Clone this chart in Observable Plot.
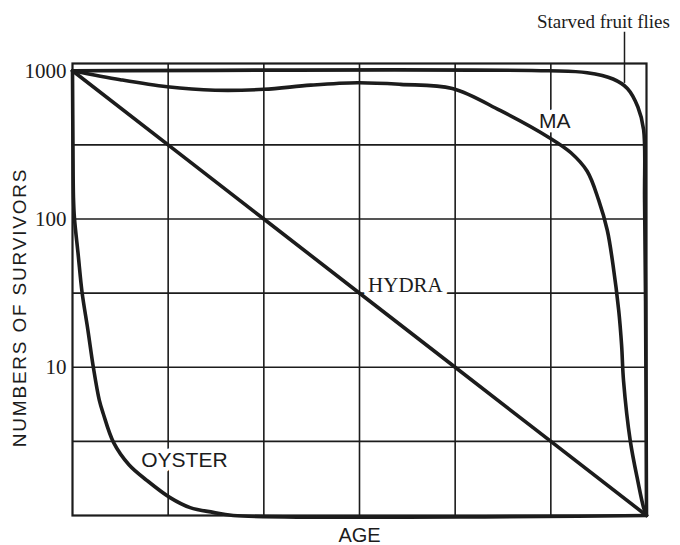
<!DOCTYPE html>
<html><head><meta charset="utf-8">
<script src="https://cdn.jsdelivr.net/npm/d3@7"></script>
<script src="https://cdn.jsdelivr.net/npm/@observablehq/plot@0.6"></script>
<style>body{margin:0;background:#fff}</style>
</head><body><div id="chart"></div>
<script>
// Survivorship curves (age in grid units 0-6, survivors on log scale)
const fliesAge = [0, 4.98, 5.38, 5.65, 5.80, 5.91, 5.97, 5.98, 5.99, 6.0];
const fliesSurvivors = [1000, 1000, 970, 880, 760, 570, 400, 134, 28, 1];

const maAge = [0, 0.5, 0.99, 1.49, 2.0, 2.49, 2.98, 3.43, 3.97, 4.47, 4.98, 5.21, 5.38, 5.50, 5.59, 5.65, 5.71, 5.74, 5.76, 5.83, 5.91, 5.97, 6.0];
const maSurvivors = [1000, 870, 780, 740, 750, 800, 830, 810, 760, 540, 355, 280, 210, 134, 84, 49, 24, 14, 8.1, 3.2, 1.7, 1.13, 1];

const hydraAge = [0, 2, 4, 6];
const hydraSurvivors = [1000, 100, 10, 1];

const oysterAge = [0, 0.005, 0.01, 0.02, 0.06, 0.10, 0.16, 0.22, 0.28, 0.32, 0.43, 0.59, 0.78, 1.02, 1.23, 1.47, 1.68, 6.0];
const oysterSurvivors = [1000, 300, 140, 102, 57, 32, 18, 9.8, 6.0, 4.9, 3.1, 2.2, 1.72, 1.32, 1.13, 1.05, 1, 1];

const yTicks = [10, 100, 1000];
const ageGrid = [1, 2, 3, 4, 5];
const survivorGrid = [Math.sqrt(10), 10, Math.sqrt(1000), 100, Math.sqrt(100000)];

const labelText = ["Starved fruit flies", "MA", "HYDRA", "OYSTER"];
const labelAge = [5.55, 5.04, 3.48, 1.17];
const labelValue = [2122, 455, 35.6, 2.35];

const leaderAge = 5.77;
const leaderTop = 1820;
const leaderBottom = 822;

const rows = [];
[["flies", fliesAge, fliesSurvivors], ["ma", maAge, maSurvivors], ["hydra", hydraAge, hydraSurvivors], ["oyster", oysterAge, oysterSurvivors]]
  .forEach(([s, a, v]) => a.forEach((age, i) => rows.push({series: s, age, survivors: v[i]})));

const labels = labelText.map((t, i) => ({text: t, age: labelAge[i], value: labelValue[i]}));

const ink = "#1c1c1c";
const serif = "Liberation Serif, serif";
const sans = "Liberation Sans, Arial, sans-serif";

const chart = Plot.plot({
  width: 680,
  height: 545,
  marginLeft: 72,
  marginRight: 34,
  marginTop: 63,
  marginBottom: 30,
  x: {domain: [0, 6], axis: null},
  y: {type: "log", domain: [1, 1120]},
  marks: [
    Plot.gridX(ageGrid, {stroke: ink, strokeOpacity: 1, strokeWidth: 1.6}),
    Plot.gridY(survivorGrid, {stroke: ink, strokeOpacity: 1, strokeWidth: 1.6}),
    Plot.frame({stroke: ink, strokeWidth: 2.2}),
    Plot.axisY(yTicks, {tickSize: 0, tickPadding: 6, tickFormat: d => String(d), fontSize: 21, fontFamily: serif, fill: ink, label: null}),
    Plot.text(labels.filter(d => d.text === "MA" || d.text === "OYSTER"), {x: "age", y: "value", text: "text", fill: ink, stroke: "white", strokeWidth: 9, fontSize: 21, fontFamily: sans}),
    Plot.text(labels.filter(d => d.text === "HYDRA"), {x: "age", y: "value", text: "text", fill: ink, stroke: "white", strokeWidth: 9, fontSize: 21, fontFamily: serif}),
    Plot.text(labels.filter(d => d.text === "Starved fruit flies"), {x: "age", y: "value", text: "text", fill: ink, fontSize: 19, fontFamily: serif}),
    Plot.ruleX([leaderAge], {y1: leaderTop, y2: leaderBottom, stroke: ink, strokeWidth: 1.5}),
    Plot.line(rows, {x: "age", y: "survivors", z: "series", curve: "catmull-rom", stroke: ink, strokeWidth: 3.6}),
    Plot.text(["NUMBERS OF SURVIVORS"], {text: d => d, frameAnchor: "left", textAnchor: "middle", rotate: -90, dx: -53, dy: 18, fontSize: 19, fontFamily: sans, fill: ink}),
    Plot.text(["AGE"], {text: d => d, frameAnchor: "bottom", lineAnchor: "middle", dy: 20, fontSize: 20, fontFamily: sans, fill: ink})
  ]
});
d3.select(chart).selectAll("text").filter(function() { return this.textContent === "NUMBERS OF SURVIVORS"; }).style("letter-spacing", "1.8px");
document.getElementById("chart").appendChild(chart);
</script>
</body></html>
